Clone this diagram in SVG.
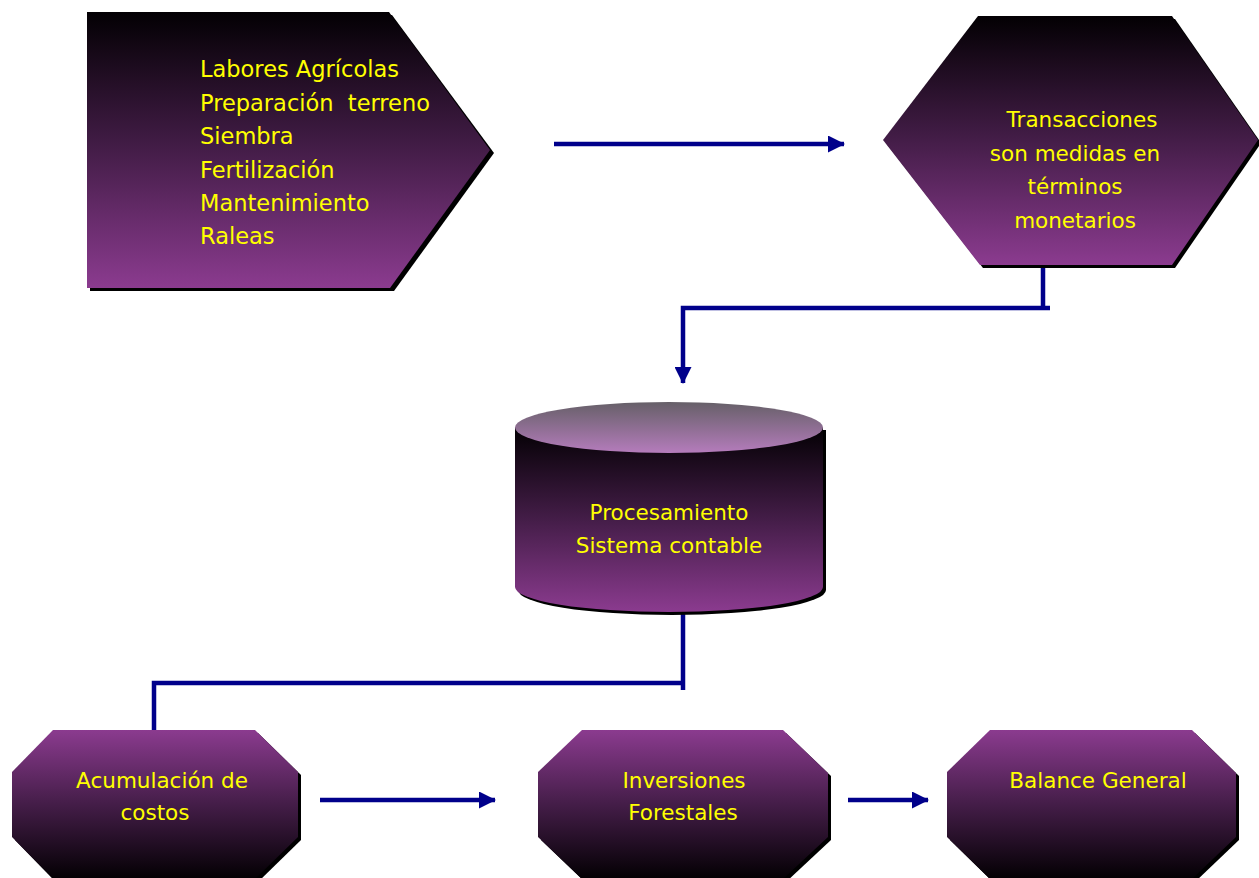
<svg xmlns="http://www.w3.org/2000/svg" width="1259" height="878" viewBox="0 0 1259 878">
  <defs>
    <!-- dark at top, violet at bottom -->
    <linearGradient id="gradUp" x1="0" y1="0" x2="0" y2="1">
      <stop offset="0" stop-color="#030003"/>
      <stop offset="0.5" stop-color="#441d48"/>
      <stop offset="1" stop-color="#8b3b8f"/>
    </linearGradient>
    <!-- violet at top, dark at bottom -->
    <linearGradient id="gradDown" x1="0" y1="0" x2="0" y2="1">
      <stop offset="0" stop-color="#8b3b8f"/>
      <stop offset="0.5" stop-color="#441d48"/>
      <stop offset="1" stop-color="#030003"/>
    </linearGradient>
    <!-- cylinder lid -->
    <linearGradient id="gradLid" x1="0" y1="0" x2="0" y2="1">
      <stop offset="0" stop-color="#666068"/>
      <stop offset="1" stop-color="#b57cbc"/>
    </linearGradient>
    <marker id="arrow" viewBox="0 0 17 17" refX="16" refY="8.5" markerWidth="17" markerHeight="17" markerUnits="userSpaceOnUse" orient="auto">
      <path d="M0,0 L17,8.5 L0,17 Z" fill="#00008b"/>
    </marker>
  </defs>
  <style>
    .shadow { fill: #000000; }
    .label { font-family: "Comic Sans MS", "DejaVu Sans", sans-serif; font-size: 21.5px; fill: #ffff00; }
    .big { font-size: 22.5px; }
    .mid { text-anchor: middle; }
    .conn { fill: none; stroke: #00008b; stroke-width: 4.5; }
  </style>
  <rect width="1259" height="878" fill="#ffffff"/>

  <!-- connectors -->
  <g id="connectors">
    <path class="conn" d="M554,144 H844" marker-end="url(#arrow)"/>
    <path class="conn" d="M1043,257 V310 M1050,308 H683 V383" marker-end="url(#arrow)"/>
    <path class="conn" d="M683,610 V690 M683,683 H154 V742"/>
    <path class="conn" d="M320,800 H495" marker-end="url(#arrow)"/>
    <path class="conn" d="M848,800 H928" marker-end="url(#arrow)"/>
  </g>

  <!-- field work pentagon -->
  <g id="labores">
    <polygon class="shadow" points="90,15 392,15 494,153 394,291 90,291"/>
    <polygon points="87,12 389,12 490,150 390,288 87,288" fill="url(#gradUp)"/>
    <text class="label big" x="200" y="77">Labores Agrícolas</text>
    <text class="label big" x="200" y="110.5" xml:space="preserve">Preparación  terreno</text>
    <text class="label big" x="200" y="144">Siembra</text>
    <text class="label big" x="200" y="177.5">Fertilización</text>
    <text class="label big" x="200" y="211">Mantenimiento</text>
    <text class="label big" x="200" y="244">Raleas</text>
  </g>

  <!-- transactions hexagon -->
  <g id="transacciones">
    <polygon class="shadow" points="981,19 1175,19 1261,143 1175,268 983,268 886,143"/>
    <polygon points="978,16 1172,16 1258,140 1172,265 980,265 883,140" fill="url(#gradUp)"/>
    <text class="label mid" x="1082" y="127">Transacciones</text>
    <text class="label mid" x="1075" y="161">son medidas en</text>
    <text class="label mid" x="1075" y="194">términos</text>
    <text class="label mid" x="1075" y="228">monetarios</text>
  </g>

  <!-- accounting system cylinder -->
  <g id="procesamiento">
    <path class="shadow" d="M518,430 V590 A154,25 0 0 0 826,590 V430 Z"/>
    <path d="M515,427 V587 A154,25 0 0 0 823,587 V427 Z" fill="url(#gradUp)"/>
    <ellipse cx="669" cy="427.5" rx="154" ry="25.5" fill="url(#gradLid)"/>
    <text class="label mid" x="669" y="520">Procesamiento</text>
    <text class="label mid" x="669" y="553">Sistema contable</text>
  </g>

  <!-- cost accumulation octagon -->
  <g id="acumulacion">
    <polygon class="shadow" points="56,733 258,733 301,775 301,840 258,882 56,882 15,840 15,775"/>
    <polygon points="53,730 255,730 298,772 298,837 255,879 53,879 12,837 12,772" fill="url(#gradDown)"/>
    <text class="label mid" x="162" y="788">Acumulación de</text>
    <text class="label mid" x="155" y="820">costos</text>
  </g>

  <!-- forest investments octagon -->
  <g id="inversiones">
    <polygon class="shadow" points="585,733 786,733 831,776 831,840 786,882 585,882 541,840 541,775"/>
    <polygon points="582,730 783,730 828,773 828,837 783,879 582,879 538,837 538,772" fill="url(#gradDown)"/>
    <text class="label mid" x="684" y="788">Inversiones</text>
    <text class="label mid" x="683" y="820">Forestales</text>
  </g>

  <!-- balance sheet octagon -->
  <g id="balance">
    <polygon class="shadow" points="993,733 1195,733 1239,776 1239,840 1195,882 993,882 950,840 950,775"/>
    <polygon points="990,730 1192,730 1236,773 1236,837 1192,879 990,879 947,837 947,772" fill="url(#gradDown)"/>
    <text class="label mid" x="1098" y="788">Balance General</text>
  </g>
</svg>
